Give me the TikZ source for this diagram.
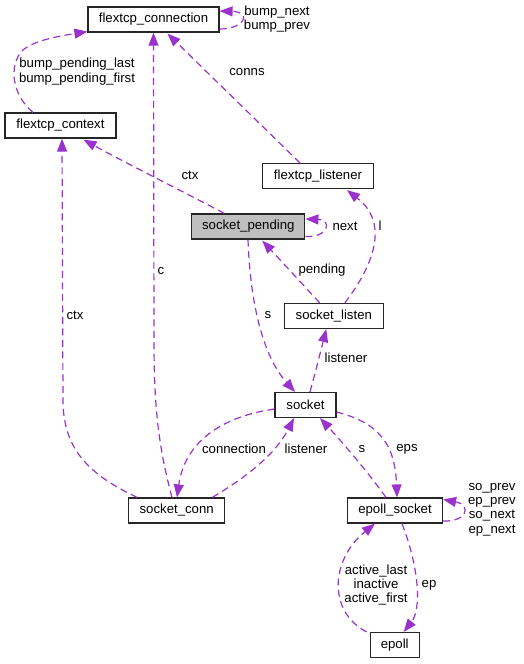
\documentclass[tikz,border=0pt]{standalone}
\usepackage{fontspec}
\setmainfont{Liberation Sans}
\usetikzlibrary{arrows.meta,calc}
\definecolor{edgec}{RGB}{154,50,205}
\definecolor{boxfill}{RGB}{191,191,191}
\begin{document}
\begin{tikzpicture}[x=1pt,y=-1pt,
  font=\fontsize{13.2}{14.3}\selectfont,
  cls/.style={draw=black!85,line width=1.2pt,minimum height=25pt,inner sep=0pt,fill=white},
  rel/.style={draw=edgec,line width=1.2pt,dash pattern=on 7pt off 4.5pt,-{Triangle[length=13pt,width=10pt,fill=edgec]}},
  lab/.style={inner sep=0pt,align=center,text=black}]
\useasboundingbox (0,0) rectangle (523,664);

\node[cls,minimum width=131pt] (fconn) at (153.5,19.5) {flextcp\_connection};
\node[cls,minimum width=111pt] (fctx) at (60.5,125.5) {flextcp\_context};
\node[cls,minimum width=111pt] (flis) at (318,176) {flextcp\_listener};
\node[cls,minimum width=113pt,fill=boxfill] (spend) at (248.3,226.5) {socket\_pending};
\node[cls,minimum width=99pt] (slis) at (333.8,316) {socket\_listen};
\node[cls,minimum width=61pt] (sock) at (305.5,405) {socket};
\node[cls,minimum width=96pt] (sconn) at (176.7,510.5) {socket\_conn};
\node[cls,minimum width=95pt] (esock) at (395,510.5) {epoll\_socket};
\node[cls,minimum width=49pt] (epoll) at (394.7,645) {epoll};

% self loop flextcp_connection
\draw[rel] ($(fconn.east)+(0,9.5)$) .. controls (245,29) and (252,12) .. ($(fconn.east)+(0,-8.5)$);
\node[lab] (lbump) at (277,19) {bump\_next\\bump\_prev};

% fctx -> fconn
\draw[rel] ($(fctx.north)+(-27.5,0)$) .. controls (12,95) and (8,65) .. (23,50) .. controls (35,40) and (60,36) .. ($(fconn.south west)+(0,-1)$);
\node[lab] (lbpend) at (77,71.5) {bump\_pending\_last\\bump\_pending\_first};

% sconn -> fconn : c
\draw[rel] ($(sconn.north)+(-4.7,0)$) .. controls (158,445) and (154,405) .. (154,340) -- (fconn.south);
\node[lab] (lc) at (161,271) {c};

% flis -> fconn : conns
\draw[rel] ($(flis.north)+(-18,0)$) -- ($(fconn.south)+(14,1)$);
\node[lab] (lconns) at (247,72) {conns};

% spend -> fctx : ctx
\draw[rel] ($(spend.north)+(-24,0)$) .. controls (180,190) and (120,160) .. ($(fctx.south)+(23,1)$);
\node[lab] (lctx1) at (190,175) {ctx};

% spend self loop : next
\draw[rel] ($(spend.east)+(0,10)$) .. controls (328,238) and (333,220) .. ($(spend.east)+(0,-7.5)$);
\node[lab] (lnext) at (345,226) {next};

% sconn -> fctx : ctx
\draw[rel] ($(sconn.north west)+(9,0)$) .. controls (90,475) and (63,450) .. (63,400) -- ($(fctx.south)+(1.5,0)$);
\node[lab] (lctx2) at (75,315) {ctx};

% slis -> flis : l
\draw[rel] ($(slis.north)+(11,0)$) .. controls (370,270) and (392,225) .. ($(flis.south)+(29,1)$);
\node[lab] (ll) at (380,226) {l};

% slis -> spend : pending
\draw[rel] ($(slis.north)+(-14,0)$) -- ($(spend.south)+(14,1)$);
\node[lab] (lpending) at (322,270) {pending};

% spend -> sock : s
\draw[rel] ($(spend.south)+(-0.3,0)$) .. controls (250,300) and (262,355) .. ($(sock.north)+(-10.5,0)$);
\node[lab] (ls1) at (268,315) {s};

% sock -> slis : listener
\draw[rel] ($(sock.north)+(4.5,0)$) .. controls (316,370) and (321,350) .. ($(slis.south)+(-7.5,0)$);
\node[lab] (llistener1) at (346,358) {listener};

% sock -> sconn : connection
\draw[rel] ($(sock.west)+(0,4)$) .. controls (225,416) and (185,440) .. ($(sconn.north)+(0.3,0)$);
\node[lab] (lconnection) at (234,449) {connection};

% sconn -> sock : listener
\draw[rel] ($(sconn.north east)+(-13,0)$) .. controls (245,478) and (275,455) .. ($(sock.south)+(-11.5,0)$);
\node[lab] (llistener2) at (306,449) {listener};

% esock -> sock : s
\draw[rel] ($(esock.north)+(-9,0)$) .. controls (370,475) and (345,445) .. ($(sock.south)+(14.5,0)$);
\node[lab] (ls2) at (362,449) {s};

% sock -> esock : eps
\draw[rel] ($(sock.east)+(0,7)$) .. controls (375,422) and (395,440) .. ($(esock.north)+(2,0)$);
\node[lab] (leps) at (407,449) {eps};

% esock self loop
\draw[rel] ($(esock.east)+(0,10.5)$) .. controls (467,522) and (472,505) .. ($(esock.east)+(0,-11)$);
\node[lab] (lso) at (492,509.5) {so\_prev\\ep\_prev\\so\_next\\ep\_next};

% esock -> epoll : ep
\draw[rel] ($(esock.south)+(7,0)$) .. controls (420,570) and (421,610) .. ($(epoll.north)+(9,0)$);
\node[lab] (lep) at (429,585) {ep};

% epoll -> esock : active
\draw[rel] ($(epoll.north west)+(-3,0)$) .. controls (328,612) and (330,560) .. ($(esock.south)+(-20,0)$);
\node[lab] (lactive) at (376,585) {active\_last\\inactive\\active\_first};
\end{tikzpicture}
\end{document}
